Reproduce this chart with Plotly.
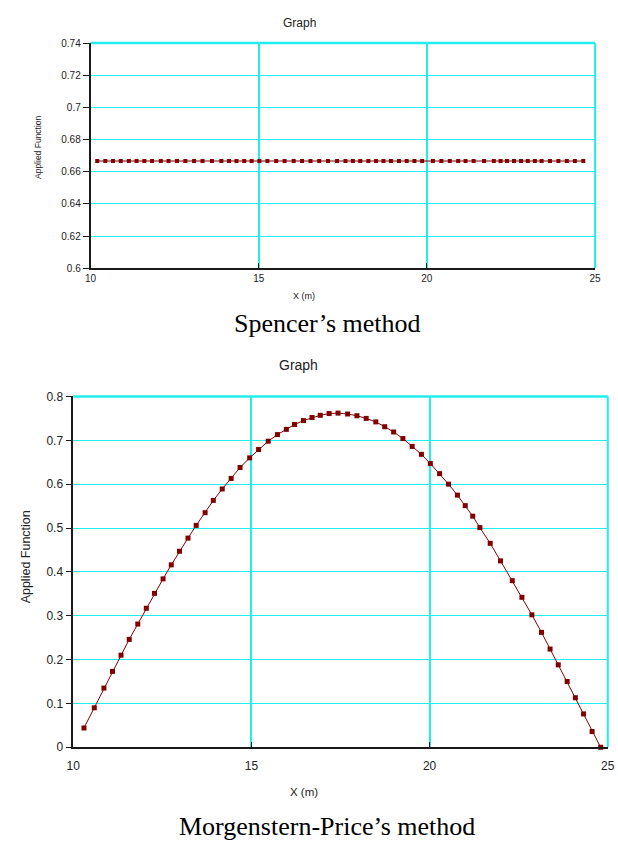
import plotly.graph_objects as go

# ---------------- data ----------------
spencer_x = [10.20, 10.44, 10.67, 10.90, 11.14, 11.37, 11.60, 11.83, 12.09, 12.32,
             12.57, 12.82, 13.08, 13.33, 13.61, 13.89, 14.12, 14.34, 14.57, 14.79,
             15.02, 15.26, 15.52, 15.77, 16.04, 16.29, 16.54, 16.80, 17.06, 17.33,
             17.58, 17.80, 18.02, 18.26, 18.49, 18.71, 18.93, 19.17, 19.40, 19.63,
             19.86, 20.18, 20.43, 20.68, 20.93, 21.15, 21.39, 21.70, 21.99, 22.19,
             22.38, 22.59, 22.80, 23.00, 23.21, 23.41, 23.66, 23.91, 24.16, 24.40,
             24.65]
spencer_y = [0.6667, 0.6667, 0.6667, 0.6667, 0.6667, 0.6667, 0.6667, 0.6667, 0.6667, 0.6667,
             0.6667, 0.6667, 0.6667, 0.6667, 0.6667, 0.6667, 0.6667, 0.6667, 0.6667, 0.6667,
             0.6667, 0.6667, 0.6667, 0.6667, 0.6667, 0.6667, 0.6667, 0.6667, 0.6667, 0.6667,
             0.6667, 0.6667, 0.6667, 0.6667, 0.6667, 0.6667, 0.6667, 0.6667, 0.6667, 0.6667,
             0.6667, 0.6667, 0.6667, 0.6667, 0.6667, 0.6667, 0.6667, 0.6667, 0.6667, 0.6667,
             0.6667, 0.6667, 0.6667, 0.6667, 0.6667, 0.6667, 0.6667, 0.6667, 0.6667, 0.6667,
             0.6667]

mp_x = [10.30, 10.59, 10.86, 11.10, 11.34, 11.57, 11.81, 12.05, 12.28, 12.52,
        12.75, 12.98, 13.22, 13.45, 13.70, 13.93, 14.18, 14.43, 14.68, 14.95,
        15.20, 15.47, 15.73, 15.98, 16.21, 16.46, 16.70, 16.93, 17.18, 17.43,
        17.70, 17.96, 18.22, 18.49, 18.74, 18.99, 19.25, 19.51, 19.77, 20.02,
        20.28, 20.53, 20.78, 21.00, 21.21, 21.41, 21.70, 21.99, 22.32, 22.59,
        22.87, 23.14, 23.38, 23.61, 23.86, 24.09, 24.32, 24.56, 24.80]
mp_y = [0.044, 0.090, 0.135, 0.173, 0.210, 0.246, 0.281, 0.317, 0.351, 0.384,
        0.416, 0.447, 0.477, 0.506, 0.535, 0.563, 0.589, 0.613, 0.638, 0.660,
        0.679, 0.698, 0.713, 0.725, 0.736, 0.745, 0.752, 0.757, 0.761, 0.762,
        0.760, 0.756, 0.750, 0.742, 0.731, 0.719, 0.704, 0.686, 0.668, 0.647,
        0.624, 0.600, 0.575, 0.551, 0.527, 0.501, 0.465, 0.425, 0.380, 0.342,
        0.302, 0.262, 0.224, 0.188, 0.150, 0.113, 0.076, 0.036, 0.0]

x_ticks = [10, 15, 20, 25]
x_ticktext = ["10", "15", "20", "25"]
top_yticks = [0.6, 0.62, 0.64, 0.66, 0.68, 0.7, 0.72, 0.74]
top_yticktext = ["0.6", "0.62", "0.64", "0.66", "0.68", "0.7", "0.72", "0.74"]
bot_yticks = [0, 0.1, 0.2, 0.3, 0.4, 0.5, 0.6, 0.7, 0.8]
bot_yticktext = ["0", "0.1", "0.2", "0.3", "0.4", "0.5", "0.6", "0.7", "0.8"]

chart_title = "Graph"
y_title = "Applied Function"
x_title = "X (m)"
caption_top = "Spencer’s method"
caption_bottom = "Morgenstern-Price’s method"

# ---------------- style ----------------
W, H = 618, 848
SANS = "Arial, Liberation Sans, sans-serif"
SERIF = "Times New Roman, Liberation Serif, serif"
GRID = "#22eeee"
AXIS = "#1a1a1a"
DARKRED = "#800000"
TXT = "#222222"

def px_x(p):
    return p / W

def px_y(p):
    return 1 - p / H

fig = go.Figure()

fig.add_trace(go.Scatter(
    x=spencer_x, y=spencer_y, xaxis="x", yaxis="y", mode="lines+markers",
    line=dict(color=DARKRED, width=1),
    marker=dict(symbol="square", size=4, color=DARKRED),
    cliponaxis=False, showlegend=False, hoverinfo="x+y"))

fig.add_trace(go.Scatter(
    x=mp_x, y=mp_y, xaxis="x2", yaxis="y2", mode="lines+markers",
    line=dict(color=DARKRED, width=1),
    marker=dict(symbol="square", size=5, color=DARKRED),
    cliponaxis=False, showlegend=False, hoverinfo="x+y"))

def xaxis_cfg(domain, fsize, anchor, standoff):
    return dict(domain=domain, anchor=anchor, range=[10, 25],
                tickmode="array", tickvals=x_ticks, ticktext=x_ticktext,
                showgrid=True, gridcolor=GRID, gridwidth=2,
                showline=True, linecolor=AXIS, linewidth=1.5,
                ticks="inside", ticklen=6, tickcolor=AXIS, tickwidth=1,
                ticklabelstandoff=standoff,
                tickfont=dict(family=SANS, size=fsize, color=TXT),
                zeroline=False, fixedrange=True)

def yaxis_cfg(domain, fsize, anchor, rng, vals, text):
    return dict(domain=domain, anchor=anchor, range=rng,
                tickmode="array", tickvals=vals, ticktext=text,
                showgrid=True, gridcolor=GRID, gridwidth=1,
                showline=True, linecolor=AXIS, linewidth=1.5,
                ticks="outside", ticklen=6, tickcolor=AXIS, tickwidth=1,
                tickfont=dict(family=SANS, size=fsize, color=TXT),
                zeroline=False, fixedrange=True)

top_xd = [px_x(85.3), px_x(600.7)]
top_yd = [px_y(265.7), px_y(36.7)]
bot_xd = [px_x(67.7), px_x(613.7)]
bot_yd = [px_y(752.7), px_y(396)]

fig.update_layout(
    width=W, height=H, autosize=False,
    margin=dict(l=0, r=0, t=0, b=0),
    paper_bgcolor="white", plot_bgcolor="white",
    xaxis=xaxis_cfg(top_xd, 10, "y", 0),
    yaxis=yaxis_cfg(top_yd, 10, "x", [0.6, 0.74], top_yticks, top_yticktext),
    xaxis2=xaxis_cfg(bot_xd, 12, "y2", 7),
    yaxis2=yaxis_cfg(bot_yd, 12, "x2", [0, 0.8], bot_yticks, bot_yticktext),
)

# top and right borders in cyan
for xr, yr in (("x domain", "y domain"), ("x2 domain", "y2 domain")):
    fig.add_shape(type="line", xref=xr, yref=yr, x0=0, x1=1, y0=1, y1=1,
                  line=dict(color=GRID, width=2.5), layer="below")
    fig.add_shape(type="line", xref=xr, yref=yr, x0=1, x1=1, y0=0, y1=1,
                  line=dict(color=GRID, width=2), layer="below")

ann = [
    dict(text=chart_title, x=px_x(299), y=px_y(16), font=dict(family=SANS, size=12, color=TXT)),
    dict(text=chart_title, x=px_x(298), y=px_y(364), font=dict(family=SANS, size=14, color=TXT)),
    dict(text=y_title, x=px_x(31), y=px_y(142), textangle=-90, font=dict(family=SANS, size=8.5, color=TXT)),
    dict(text=y_title, x=px_x(19), y=px_y(559), textangle=-90, font=dict(family=SANS, size=12.5, color=TXT)),
    dict(text=x_title, x=px_x(303), y=px_y(294), font=dict(family=SANS, size=9, color=TXT)),
    dict(text=x_title, x=px_x(303), y=px_y(798), font=dict(family=SANS, size=11.5, color=TXT)),
    dict(text=caption_top, x=px_x(327), y=px_y(322), font=dict(family=SERIF, size=26, color="#000")),
    dict(text=caption_bottom, x=px_x(327), y=px_y(833), font=dict(family=SERIF, size=26, color="#000")),
]
for a in ann:
    fig.add_annotation(xref="paper", yref="paper", xanchor="center", yanchor="middle",
                       showarrow=False, **a)

fig.write_html("out.html")
